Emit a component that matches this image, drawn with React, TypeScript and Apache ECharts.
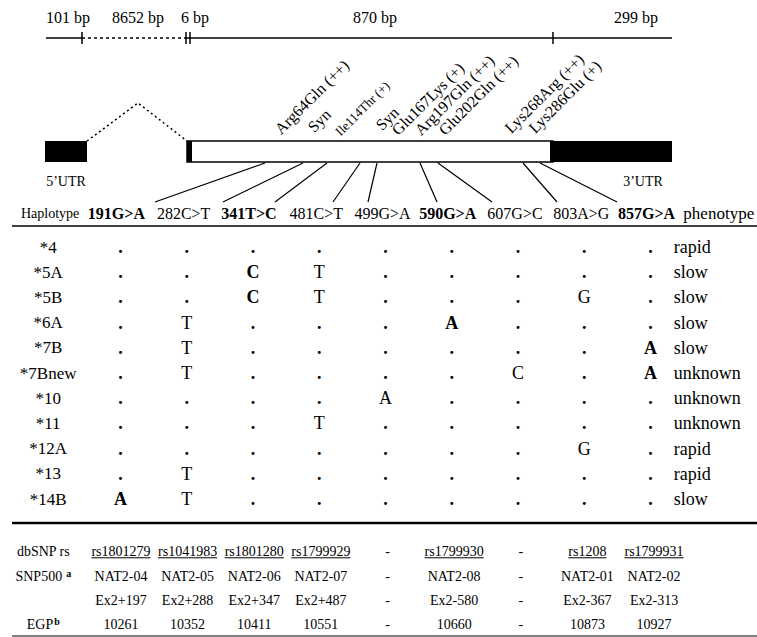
import React, { useEffect, useRef } from 'react';
import * as echarts from 'echarts';

// ---------------- data ----------------
const segmentLabels = ['101 bp', '8652 bp', '6 bp', '870 bp', '299 bp'];
const aminoAcidChanges = [
  'Arg64Gln (++)', 'Syn', 'Ile114Thr (+)', 'Syn', 'Glu167Lys (+)',
  'Arg197Gln (++)', 'Glu202Gln (++)', 'Lys268Arg (++)', 'Lys286Glu (+)',
];
const utrLabels = ['5\u2019UTR', '3\u2019UTR'];
const snpColumns = ['191G>A', '282C>T', '341T>C', '481C>T', '499G>A', '590G>A', '607G>C', '803A>G', '857G>A'];
const boldColumns = ['191G>A', '341T>C', '590G>A', '857G>A'];
const haplotypes = ['*4', '*5A', '*5B', '*6A', '*7B', '*7Bnew', '*10', '*11', '*12A', '*13', '*14B'];
const genotypes = [
  ['.', '.', '.', '.', '.', '.', '.', '.', '.'],
  ['.', '.', 'C', 'T', '.', '.', '.', '.', '.'],
  ['.', '.', 'C', 'T', '.', '.', '.', 'G', '.'],
  ['.', 'T', '.', '.', '.', 'A', '.', '.', '.'],
  ['.', 'T', '.', '.', '.', '.', '.', '.', 'A'],
  ['.', 'T', '.', '.', '.', '.', 'C', '.', 'A'],
  ['.', '.', '.', '.', 'A', '.', '.', '.', '.'],
  ['.', '.', '.', 'T', '.', '.', '.', '.', '.'],
  ['.', '.', '.', '.', '.', '.', '.', 'G', '.'],
  ['.', 'T', '.', '.', '.', '.', '.', '.', '.'],
  ['A', 'T', '.', '.', '.', '.', '.', '.', '.'],
];
const phenotypes = ['rapid', 'slow', 'slow', 'slow', 'slow', 'unknown', 'unknown', 'unknown', 'rapid', 'rapid', 'slow'];
const annotationRows = ['dbSNP rs', 'SNP500', '', 'EGP'];
const annotationNotes = ['', 'a', '', 'b'];
const dbSnpIds = ['rs1801279', 'rs1041983', 'rs1801280', 'rs1799929', '-', 'rs1799930', '-', 'rs1208', 'rs1799931'];
const snp500Ids = ['NAT2-04', 'NAT2-05', 'NAT2-06', 'NAT2-07', '-', 'NAT2-08', '-', 'NAT2-01', 'NAT2-02'];
const exonPositions = ['Ex2+197', 'Ex2+288', 'Ex2+347', 'Ex2+487', '-', 'Ex2-580', '-', 'Ex2-367', 'Ex2-313'];
const egpPositions = ['10261', '10352', '10411', '10551', '-', '10660', '-', '10873', '10927'];

const columnNames = ['Haplotype', ...snpColumns, 'phenotype'];

// ---------------- layout / style ----------------
const FONT = '"Liberation Serif", "Times New Roman", serif';
const INK = '#000';
const D = {
  scaleY: 38, scaleX0: 46, scaleX1: 672, dotFrom: 82, dotTo: 186,
  ticks: [82, 186, 190, 553], tickHalf: 6,
  segLabelX: [68, 138, 195, 375, 636], segLabelY: 17,
  boxTop: 141, boxH: 21,
  utr5: [45, 87], intronPeak: [138, 103], exon: [187, 553], utr3: [550, 672],
  subsAnchors: [[283, 137], [316, 135], [342, 138], [384, 133], [400, 138], [423, 138], [447, 138], [513, 136], [537, 136]],
  subsSizes: [16, 16, 13, 16, 16, 16, 16, 16, 16],
  fanTop: [265, 303, 327, 360, 377, 420, 438, 523, 540],
  fanBottom: [155, 223, 275, 333, 368, 437, 492, 557, 617],
  fanY0: 163, fanY1: 202,
  utrLabelX: [66, 643], utrLabelY: 181,
  ruleX0: 12, ruleX1: 757, headerRuleY: 226, midRuleY: 523, bottomRuleY: 636,
  noteGap: [0, 4, 0, 1],
};

let measureCtx: CanvasRenderingContext2D | null = null;
function textWidth(t: string, size: number, weight = 'normal') {
  if (!measureCtx) measureCtx = document.createElement('canvas').getContext('2d');
  if (!measureCtx) return t.length * size * 0.5;
  measureCtx.font = `${weight} ${size}px "Liberation Serif"`;
  return measureCtx.measureText(t).width;
}

function txt(text: string, x: number, y: number, size: number, align = 'center', vAlign = 'middle', extra: any = {}) {
  return {
    type: 'text', x, y, silent: true, ...extra,
    style: {
      text, fill: INK, fontSize: size, fontFamily: FONT, fontWeight: extra.weight || 'normal',
      align, textAlign: align, verticalAlign: vAlign, textVerticalAlign: vAlign,
    },
  };
}
function ln(x1: number, y1: number, x2: number, y2: number, w = 1.5, dash?: number[]) {
  return { type: 'line', silent: true, shape: { x1, y1, x2, y2 }, style: { stroke: INK, lineWidth: w, lineDash: dash } };
}

function diagramGraphics() {
  const g: any[] = [];
  segmentLabels.forEach((s, i) => g.push(txt(s, D.segLabelX[i], D.segLabelY, 16)));
  g.push(ln(D.scaleX0, D.scaleY, D.dotFrom, D.scaleY, 1.5));
  g.push(ln(D.dotFrom, D.scaleY, D.dotTo, D.scaleY, 1.5, [3, 3]));
  g.push(ln(D.dotTo, D.scaleY, D.scaleX1, D.scaleY, 1.5));
  D.ticks.forEach((t) => g.push(ln(t, D.scaleY - D.tickHalf, t, D.scaleY + D.tickHalf, 1.5)));

  aminoAcidChanges.forEach((s, i) => {
    const [x, y] = D.subsAnchors[i];
    g.push(txt(s, x, y, D.subsSizes[i], 'left', 'bottom', { rotation: Math.PI / 4 }));
  });

  const top = D.boxTop, h = D.boxH;
  g.push({ type: 'rect', silent: true, shape: { x: D.utr5[0], y: top, width: D.utr5[1] - D.utr5[0], height: h }, style: { fill: INK } });
  g.push({ type: 'polyline', silent: true, shape: { points: [[D.utr5[1], top], D.intronPeak, [D.exon[0], top]] }, style: { stroke: INK, lineWidth: 1.5, lineDash: [2, 3], fill: null } });
  g.push({ type: 'rect', silent: true, shape: { x: D.exon[0], y: top, width: D.exon[1] - D.exon[0], height: h }, style: { fill: '#fff', stroke: INK, lineWidth: 1.5 } });
  g.push({ type: 'rect', silent: true, shape: { x: D.exon[0], y: top, width: 5, height: h }, style: { fill: INK } });
  g.push({ type: 'rect', silent: true, shape: { x: D.utr3[0], y: top, width: D.utr3[1] - D.utr3[0], height: h }, style: { fill: INK } });
  utrLabels.forEach((s, i) => g.push(txt(s, D.utrLabelX[i], D.utrLabelY, 14)));

  D.fanTop.forEach((x, i) => g.push(ln(x, D.fanY0, D.fanBottom[i], D.fanY1, 1.2)));

  g.push(ln(D.ruleX0, D.headerRuleY, D.ruleX1, D.headerRuleY, 1.6));
  g.push(ln(D.ruleX0, D.midRuleY, D.ruleX1, D.midRuleY, 2.6));
  g.push(ln(D.ruleX0, D.bottomRuleY, D.ruleX1, D.bottomRuleY, 1.2));
  return g;
}

type Cell = { col: number; row: number; text: string; size: number; bold?: boolean; dx: number; align: string; underline?: boolean; note?: string; gap?: number };

const mainCells: Cell[] = [];
haplotypes.forEach((h, r) => {
  mainCells.push({ col: 0, row: r, text: h, size: 17, dx: -6, align: 'center' });
  genotypes[r].forEach((gv, c) => {
    const isBoldCol = boldColumns.includes(snpColumns[c]);
    mainCells.push({ col: c + 1, row: r, text: gv, size: 18, bold: isBoldCol || gv === '.', dx: 0, align: 'center' });
  });
  mainCells.push({ col: 10, row: r, text: phenotypes[r], size: 18, dx: -43, align: 'left' });
});

const annotationValues = [dbSnpIds, snp500Ids, exonPositions, egpPositions];
const bottomCells: Cell[] = [];
annotationRows.forEach((label, r) => {
  if (label) bottomCells.push({ col: 0, row: r, text: label, note: annotationNotes[r], gap: D.noteGap[r], size: 14, dx: -11, align: 'center' });
  annotationValues[r].forEach((v, c) => {
    bottomCells.push({ col: c + 1, row: r, text: v, size: 14, dx: 0, align: 'center', underline: r === 0 && v !== '-' });
  });
});

function cellRenderer(cells: Cell[]) {
  return (params: any, api: any) => {
    const cell = cells[params.dataIndex];
    const p = api.coord([api.value(0), api.value(1)]);
    const x = p[0] + cell.dx;
    const y = p[1];
    const weight = cell.bold ? 'bold' : 'normal';
    const style: any = {
      text: cell.note ? `{n|${cell.text}}{s|${cell.note}}` : cell.text,
      fill: INK, fontSize: cell.size, fontFamily: FONT, fontWeight: weight,
      align: cell.align, textAlign: cell.align, verticalAlign: 'middle', textVerticalAlign: 'middle',
    };
    if (cell.note) {
      style.rich = {
        n: { fontSize: cell.size, fontFamily: FONT, fill: INK, lineHeight: 16, padding: [0, cell.gap || 0, 0, 0] },
        s: { fontSize: 10, fontFamily: FONT, fill: INK, fontWeight: 'bold', verticalAlign: 'top', lineHeight: 16 },
      };
    }
    const t = { type: 'text', x, y, style };
    if (!cell.underline) return t;
    const w = textWidth(cell.text, cell.size, weight);
    const x0 = cell.align === 'center' ? x - w / 2 : x;
    const uy = y + cell.size * 0.42;
    return {
      type: 'group',
      children: [t, { type: 'line', shape: { x1: x0, y1: uy, x2: x0 + w, y2: uy }, style: { stroke: INK, lineWidth: 1 } }],
    };
  };
}

function buildOption(): any {
  const headerFmt = (v: string) => {
    if (v === 'Haplotype') return `{s|${v}}`;
    if (v === 'phenotype') return `{p|${v}}`;
    return boldColumns.includes(v) ? `{b|${v}}` : `{r|${v}}`;
  };
  const base = { fontFamily: FONT, color: INK, lineHeight: 16 };
  return {
    animation: false,
    backgroundColor: '#fff',
    grid: [
      { left: 21, width: 733, top: 234.4, height: 277.2 },
      { left: 21, width: 733, top: 539.75, height: 98 },
    ],
    xAxis: [
      {
        type: 'category', gridIndex: 0, position: 'top', data: columnNames,
        axisLine: { show: false }, axisTick: { show: false }, splitLine: { show: false },
        axisLabel: {
          interval: 0, margin: 13, hideOverlap: false, formatter: headerFmt,
          rich: {
            s: { ...base, fontSize: 14, padding: [0, 8, 0, 0] },
            p: { ...base, fontSize: 17, padding: [0, 0, 0, 4] },
            b: { ...base, fontSize: 16, fontWeight: 'bold', padding: [0, 8, 0, 0] },
            r: { ...base, fontSize: 16, padding: [0, 6, 0, 0] },
          },
        },
      },
      { type: 'category', gridIndex: 1, data: columnNames, show: false },
    ],
    yAxis: [
      { type: 'category', gridIndex: 0, data: haplotypes, inverse: true, show: false },
      { type: 'category', gridIndex: 1, data: annotationRows, inverse: true, show: false },
    ],
    series: [
      {
        type: 'custom', xAxisIndex: 0, yAxisIndex: 0, silent: true, clip: false,
        data: mainCells.map((c) => [c.col, c.row]),
        encode: { x: 0, y: 1 },
        renderItem: cellRenderer(mainCells),
      },
      {
        type: 'custom', xAxisIndex: 1, yAxisIndex: 1, silent: true, clip: false,
        data: bottomCells.map((c) => [c.col, c.row]),
        encode: { x: 0, y: 1 },
        renderItem: cellRenderer(bottomCells),
      },
    ],
    graphic: diagramGraphics(),
  };
}

export default function App() {
  const ref = useRef<HTMLDivElement>(null);
  useEffect(() => {
    if (!ref.current) return;
    const chart = echarts.init(ref.current, null, { renderer: 'svg' });
    chart.setOption(buildOption());
    return () => chart.dispose();
  }, []);
  return <div ref={ref} style={{ position: 'fixed', left: 0, top: 0, width: 757, height: 637, background: '#fff' }} />;
}
